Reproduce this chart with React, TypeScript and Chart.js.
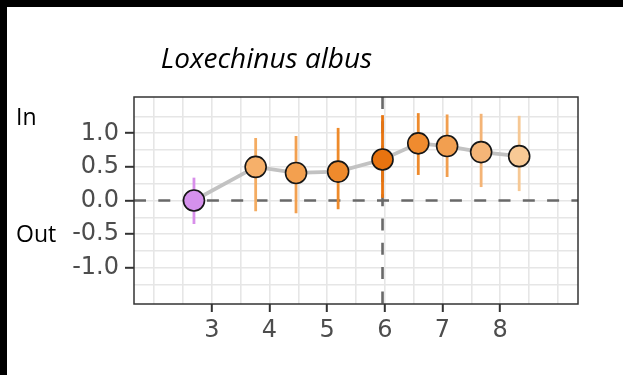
import { useEffect, useRef } from 'react';
import { Chart, registerables } from 'chart.js';

Chart.register(...registerables);

// Species shown in the panel and the side annotations
const speciesName = 'Loxechinus albus';
const upperNote = 'In';
const lowerNote = 'Out';

// Point estimates with their intervals
const xPos = [2.69, 3.76, 4.46, 5.19, 5.96, 6.58, 7.08, 7.67, 8.33];
const effect = [0.0, 0.5, 0.41, 0.43, 0.61, 0.85, 0.81, 0.72, 0.66];
const lower = [-0.35, -0.16, -0.19, -0.13, 0.04, 0.38, 0.35, 0.2, 0.14];
const upper = [0.34, 0.93, 0.96, 1.08, 1.27, 1.3, 1.28, 1.29, 1.26];

// Fill of each point and colour of its interval bar
const fillColors = ['#D591EC', '#F6B06A', '#F3A04F', '#EF8A2C', '#E8730F', '#EF8B2F', '#F29F50', '#F5B577', '#F8C995'];
const whiskerColors = ['#D88FEA', '#F4AC62', '#F2A050', '#EE8A2A', '#E8740F', '#EE8A2C', '#F19E4E', '#F4B476', '#F6C894'];

// Axis limits, grid positions and labelled ticks
const xLimits = [1.65, 9.35];
const yLimits = [-1.54, 1.54];
const xGrid = [2, 2.5, 3, 3.5, 4, 4.5, 5, 5.5, 6, 6.5, 7, 7.5, 8, 8.5, 9];
const yGrid = [-1.25, -1, -0.75, -0.5, -0.25, 0, 0.25, 0.5, 0.75, 1, 1.25];
const xTickLabels = [3, 4, 5, 6, 7, 8];
const yTickLabels = [-1, -0.5, 0, 0.5, 1];

// Reference lines
const refX = 5.96;
const refY = 0;

const tickFont = { family: '"DejaVu Sans", sans-serif', size: 24 };

const decorations = {
  id: 'decorations',
  beforeDraw(chart: any) {
    const { ctx, width, height } = chart;
    ctx.save();
    ctx.fillStyle = '#ffffff';
    ctx.fillRect(0, 0, width, height);
    ctx.fillStyle = '#000000';
    ctx.fillRect(0, 0, width, 7);
    ctx.fillRect(0, 0, 7, height);
    ctx.restore();
  },
  beforeDatasetsDraw(chart: any) {
    const { ctx, chartArea: a, scales } = chart;
    const x = scales.x;
    const y = scales.y;
    ctx.save();
    ctx.beginPath();
    ctx.rect(a.left, a.top, a.right - a.left, a.bottom - a.top);
    ctx.clip();

    ctx.strokeStyle = '#696969';
    ctx.lineWidth = 2.6;
    ctx.setLineDash([12, 12.3]);
    const y0 = y.getPixelForValue(refY);
    ctx.beginPath();
    ctx.moveTo(a.left, y0);
    ctx.lineTo(a.right, y0);
    ctx.stroke();
    const x0 = x.getPixelForValue(refX);
    ctx.beginPath();
    ctx.moveTo(x0, a.top);
    ctx.lineTo(x0, a.bottom);
    ctx.stroke();
    ctx.setLineDash([]);

    ctx.lineWidth = 2.8;
    xPos.forEach((v, i) => {
      const px = x.getPixelForValue(v);
      ctx.strokeStyle = whiskerColors[i];
      ctx.beginPath();
      ctx.moveTo(px, y.getPixelForValue(lower[i]));
      ctx.lineTo(px, y.getPixelForValue(upper[i]));
      ctx.stroke();
    });
    ctx.restore();
  },
  afterDraw(chart: any) {
    const { ctx, chartArea: a } = chart;
    ctx.save();
    ctx.strokeStyle = '#333333';
    ctx.lineWidth = 1.5;
    ctx.strokeRect(a.left, a.top, a.right - a.left, a.bottom - a.top);

    ctx.fillStyle = '#000000';
    ctx.textBaseline = 'alphabetic';
    ctx.textAlign = 'center';
    ctx.font = 'italic 28px "Open Sans"';
    ctx.fillText(speciesName, 266.5, 67.5);

    ctx.textAlign = 'left';
    ctx.font = '23px "Open Sans"';
    ctx.fillText(upperNote, 16, 125);
    ctx.fillText(lowerNote, 16, 241.5);
    ctx.restore();
  },
};

export default function App() {
  const canvasRef = useRef<HTMLCanvasElement | null>(null);

  useEffect(() => {
    const canvas = canvasRef.current;
    if (!canvas) return;
    const points = xPos.map((v, i) => ({ x: v, y: effect[i] }));

    const chart = new Chart(canvas, {
      type: 'scatter',
      data: {
        datasets: [
          {
            data: points,
            backgroundColor: fillColors,
            borderColor: '#161616',
            borderWidth: 1.6,
            pointRadius: 10.5,
            pointHoverRadius: 10.5,
          },
          {
            type: 'line',
            data: points,
            borderColor: '#c2c2c2',
            borderWidth: 3.8,
            pointRadius: 0,
            showLine: true,
            fill: false,
            tension: 0,
          } as any,
        ],
      },
      options: {
        responsive: false,
        animation: false,
        devicePixelRatio: 1,
        events: [],
        layout: { padding: { top: 97, right: 45, bottom: 0, left: 0 } },
        plugins: {
          legend: { display: false },
          tooltip: { enabled: false },
          title: { display: false },
        },
        scales: {
          x: {
            type: 'linear',
            min: xLimits[0],
            max: xLimits[1],
            afterBuildTicks: (s: any) => {
              s.ticks = xGrid.map((v) => ({ value: v }));
            },
            afterFit: (s: any) => {
              s.height = 71;
            },
            border: { display: false },
            grid: {
              color: '#e6e6e6',
              lineWidth: 1.6,
              drawTicks: true,
              tickLength: 8,
              tickWidth: 2,
              tickColor: (c: any) => (xTickLabels.includes(c.tick?.value) ? '#333333' : 'rgba(0,0,0,0)'),
            },
            ticks: {
              autoSkip: false,
              maxRotation: 0,
              padding: 4,
              color: '#4d4d4d',
              font: tickFont,
              callback: (v: any) => (xTickLabels.includes(Number(v)) ? String(v) : ''),
            },
          },
          y: {
            type: 'linear',
            min: yLimits[0],
            max: yLimits[1],
            afterBuildTicks: (s: any) => {
              s.ticks = yGrid.map((v) => ({ value: v }));
            },
            afterFit: (s: any) => {
              s.width = 134;
            },
            border: { display: false },
            grid: {
              color: '#e6e6e6',
              lineWidth: 1.6,
              drawTicks: true,
              tickLength: 9,
              tickWidth: 2,
              tickColor: (c: any) => (yTickLabels.includes(c.tick?.value) ? '#333333' : 'rgba(0,0,0,0)'),
            },
            ticks: {
              autoSkip: false,
              padding: 6,
              color: '#4d4d4d',
              font: tickFont,
              callback: (v: any) => (yTickLabels.includes(Number(v)) ? Number(v).toFixed(1) : ''),
            },
          },
        },
      },
      plugins: [decorations],
    });

    return () => chart.destroy();
  }, []);

  return (
    <div style={{ position: 'fixed', left: 0, top: 0, width: 623, height: 375, background: '#fff' }}>
      <canvas ref={canvasRef} width={623} height={375} style={{ display: 'block', width: 623, height: 375 }} />
    </div>
  );
}
